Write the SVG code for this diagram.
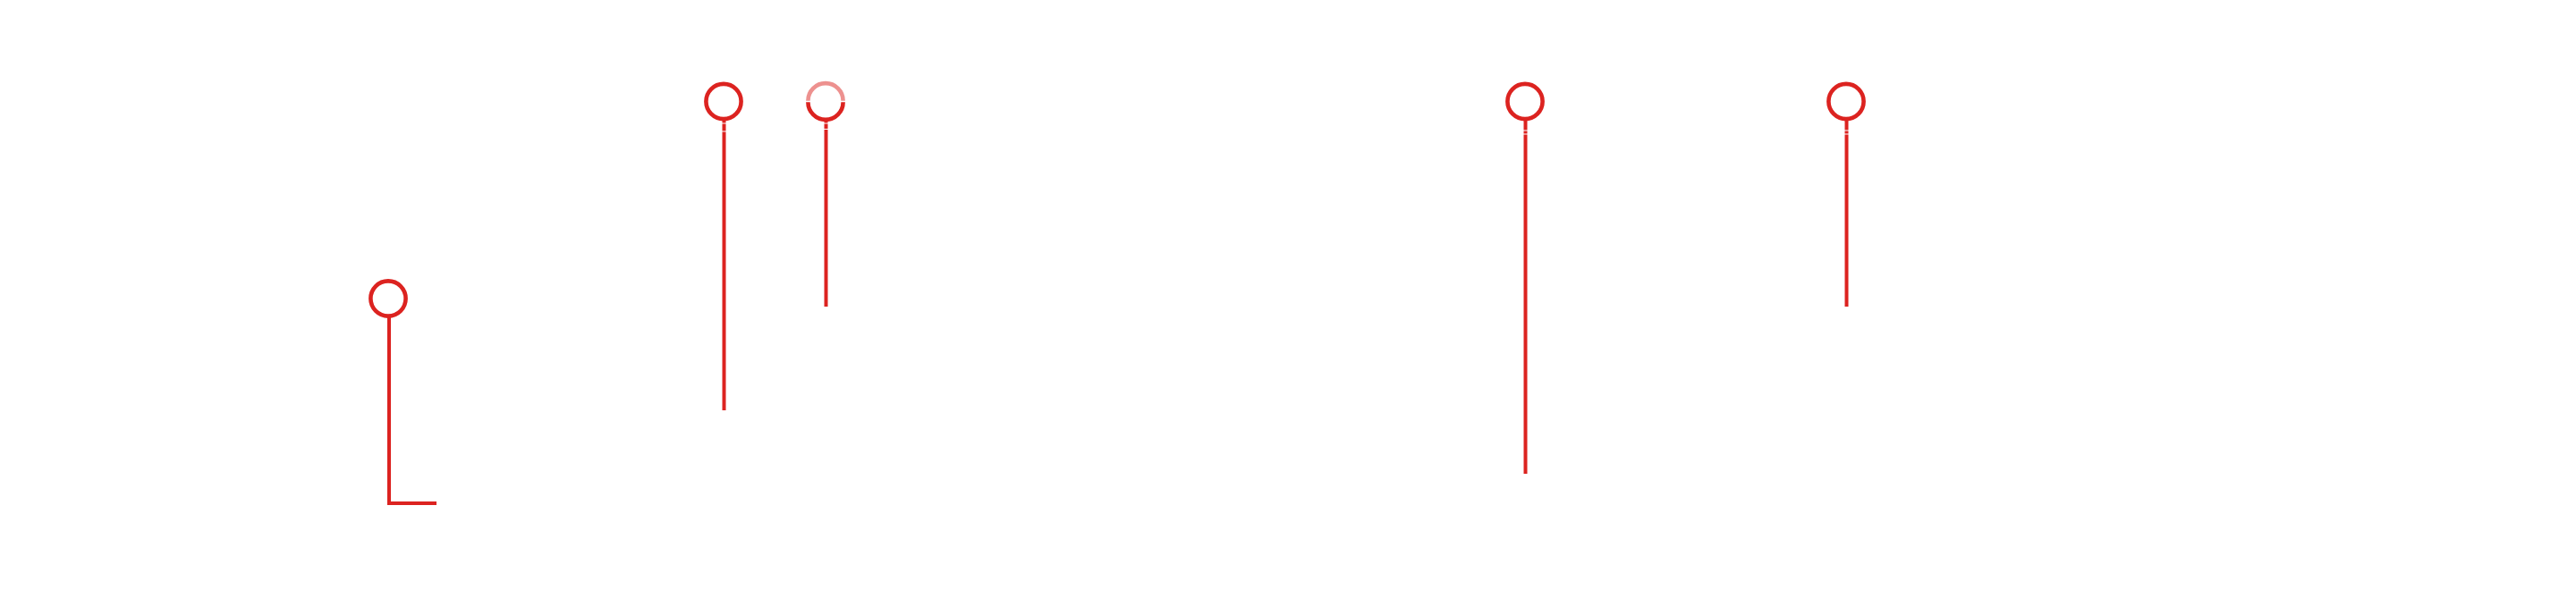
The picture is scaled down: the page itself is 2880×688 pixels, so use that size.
<svg xmlns="http://www.w3.org/2000/svg" width="2880" height="688" viewBox="0 0 2880 688">
<style>
.ring{fill:none;stroke:#dc2320;stroke-width:4.6}
.faded{fill:none;stroke:#dc2320;stroke-opacity:0.5;stroke-width:4.6}
.wire{fill:none;stroke:#dc2320;stroke-width:4}
</style>
<rect width="2880" height="688" fill="#ffffff"/>
<g id="node-1"><circle class="ring" cx="434" cy="334" r="19.6"/></g>
<g id="node-2"><circle class="ring" cx="809" cy="113.5" r="19.6"/></g>
<g id="node-3">
<path class="faded" d="M903.4 112.7 A19.6 19.6 0 0 1 942.6 112.7"/>
<path class="ring" d="M903.4 114.3 A19.6 19.6 0 0 0 942.6 114.3"/>
</g>
<g id="node-4"><circle class="ring" cx="1705" cy="113.5" r="19.6"/></g>
<g id="node-5"><circle class="ring" cx="2064" cy="113.5" r="19.6"/></g>
<g id="connectors">
<path class="wire" d="M435 355 V563 H488"/>
<path class="wire" d="M809.5 135 V137.5 M809.5 138.5 V146.5 M809.5 147.5 V459"/>
<path class="wire" d="M923.5 135 V137.5 M923.5 138.5 V144 M923.5 145 V343"/>
<path class="wire" d="M1705.5 135 V145.5 M1705.5 146.5 V149.5 M1705.5 150.5 V530"/>
<path class="wire" d="M2064.5 135 V145.5 M2064.5 146.5 V149.5 M2064.5 150.5 V343"/>
</g>
</svg>
